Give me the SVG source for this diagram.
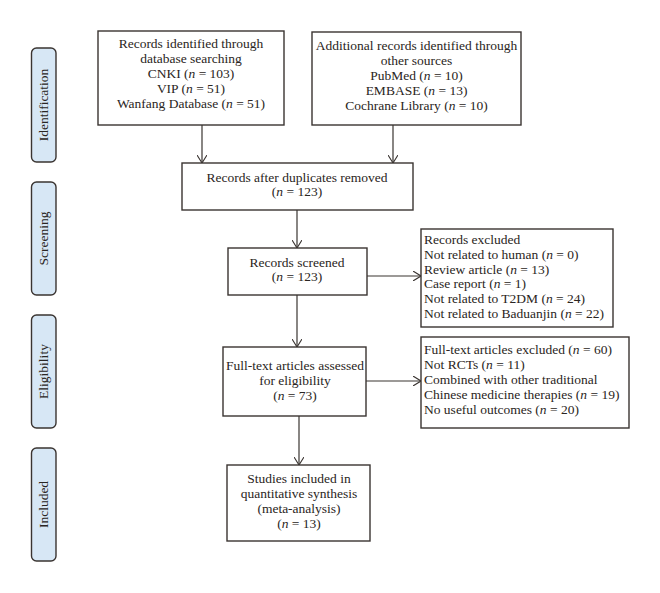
<svg xmlns="http://www.w3.org/2000/svg" width="660" height="593" viewBox="0 0 660 593">
<style>
.box{fill:#fff;stroke:#3a3431;stroke-width:1.4}
.lab{fill:#d7e7f5;stroke:#3a3431;stroke-width:1.4}
text{font-family:"Liberation Serif","Times New Roman",serif;font-size:13.5px;fill:#2a2522}
.c{text-anchor:middle}
.conn line{stroke:#3a3431;stroke-width:1.2;fill:none}
</style>
<defs>
<marker id="ah" viewBox="0 0 8 10" refX="8" refY="5" markerWidth="8" markerHeight="10" markerUnits="userSpaceOnUse" orient="auto">
<path d="M0,0 L8,5 L0,10" fill="none" stroke="#3a3431" stroke-width="1.1"/>
</marker>
</defs>
<rect width="660" height="593" fill="#fff"/>

<g id="stage-identification">
<rect class="lab" x="31.5" y="48" width="24.5" height="114" rx="5"/>
<text class="c" transform="translate(48,105) rotate(-90)">Identification</text>
</g>
<g id="stage-screening">
<rect class="lab" x="31.5" y="182" width="24.5" height="113" rx="5"/>
<text class="c" transform="translate(48,238.5) rotate(-90)">Screening</text>
</g>
<g id="stage-eligibility">
<rect class="lab" x="31.5" y="315" width="24.5" height="113" rx="5"/>
<text class="c" transform="translate(48,371.5) rotate(-90)">Eligibility</text>
</g>
<g id="stage-included">
<rect class="lab" x="31.5" y="448" width="24.5" height="113" rx="5"/>
<text class="c" transform="translate(48,504.5) rotate(-90)">Included</text>
</g>

<g id="node-database">
<rect class="box" x="98" y="31" width="186" height="94"/>
<text class="c" x="191" y="48.4">Records identified through</text>
<text class="c" x="191" y="63.2">database searching</text>
<text class="c" x="191" y="78">CNKI (<tspan font-style="italic">n</tspan> = 103)</text>
<text class="c" x="191" y="92.8">VIP (<tspan font-style="italic">n</tspan> = 51)</text>
<text class="c" x="191" y="107.6">Wanfang Database (<tspan font-style="italic">n</tspan> = 51)</text>
</g>

<g id="node-other">
<rect class="box" x="312" y="32" width="209" height="93"/>
<text class="c" x="416.5" y="50.4">Additional records identified through</text>
<text class="c" x="416.5" y="65.2">other sources</text>
<text class="c" x="416.5" y="80">PubMed (<tspan font-style="italic">n</tspan> = 10)</text>
<text class="c" x="416.5" y="94.8">EMBASE (<tspan font-style="italic">n</tspan> = 13)</text>
<text class="c" x="416.5" y="109.6">Cochrane Library (<tspan font-style="italic">n</tspan> = 10)</text>
</g>

<g id="node-duplicates">
<rect class="box" x="182" y="163" width="231" height="47"/>
<text class="c" x="297" y="181.6">Records after duplicates removed</text>
<text class="c" x="297" y="196.4">(<tspan font-style="italic">n</tspan> = 123)</text>
</g>

<g id="node-screened">
<rect class="box" x="228" y="248" width="139" height="47"/>
<text class="c" x="297" y="266.6">Records screened</text>
<text class="c" x="297" y="281.4">(<tspan font-style="italic">n</tspan> = 123)</text>
</g>

<g id="node-excluded">
<rect class="box" x="421" y="229" width="192" height="98"/>
<text x="424" y="244">Records excluded</text>
<text x="424" y="258.8">Not related to human  (<tspan font-style="italic">n</tspan> = 0)</text>
<text x="424" y="273.6">Review article (<tspan font-style="italic">n</tspan> = 13)</text>
<text x="424" y="288.4">Case report (<tspan font-style="italic">n</tspan> = 1)</text>
<text x="424" y="303.2">Not related to T2DM (<tspan font-style="italic">n</tspan> = 24)</text>
<text x="424" y="318">Not related to Baduanjin (<tspan font-style="italic">n</tspan> = 22)</text>
</g>

<g id="node-fulltext">
<rect class="box" x="223" y="347" width="143" height="69"/>
<text class="c" x="295" y="370.2">Full-text articles assessed</text>
<text class="c" x="295" y="385">for eligibility</text>
<text class="c" x="295" y="399.8">(<tspan font-style="italic">n</tspan> = 73)</text>
</g>

<g id="node-ftexcluded">
<rect class="box" x="421" y="337" width="208" height="91"/>
<text x="424" y="354.4">Full-text articles excluded (<tspan font-style="italic">n</tspan> = 60)</text>
<text x="424" y="369.2">Not RCTs (<tspan font-style="italic">n</tspan> = 11)</text>
<text x="424" y="384">Combined with other traditional</text>
<text x="424" y="398.8">Chinese medicine therapies (<tspan font-style="italic">n</tspan> = 19)</text>
<text x="424" y="413.6">No useful outcomes (<tspan font-style="italic">n</tspan> = 20)</text>
</g>

<g id="node-included">
<rect class="box" x="227" y="465" width="143" height="76"/>
<text class="c" x="299" y="483.3">Studies included in</text>
<text class="c" x="299" y="498.1">quantitative synthesis</text>
<text class="c" x="299" y="512.9">(meta-analysis)</text>
<text class="c" x="299" y="527.7">(<tspan font-style="italic">n</tspan> = 13)</text>
</g>

<g id="connectors" class="conn">
<line x1="202" y1="125" x2="202" y2="163" marker-end="url(#ah)"/>
<line x1="393" y1="125" x2="393" y2="163" marker-end="url(#ah)"/>
<line x1="297" y1="210" x2="297" y2="248" marker-end="url(#ah)"/>
<line x1="367" y1="276" x2="421" y2="276" marker-end="url(#ah)"/>
<line x1="297" y1="295" x2="297" y2="347" marker-end="url(#ah)"/>
<line x1="366" y1="381" x2="421" y2="381" marker-end="url(#ah)"/>
<line x1="299" y1="416" x2="299" y2="465" marker-end="url(#ah)"/>
</g>
</svg>
